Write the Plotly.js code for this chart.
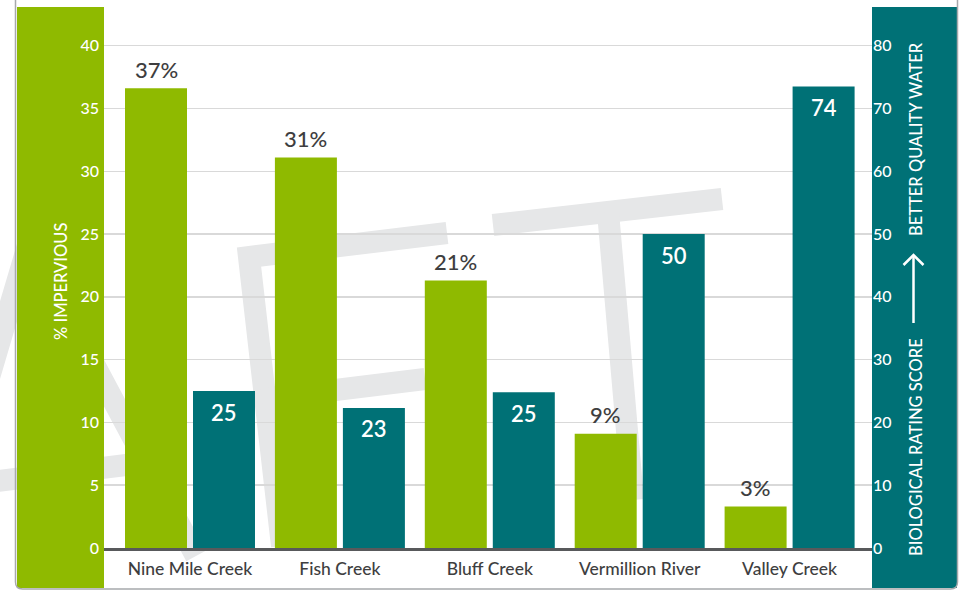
<!DOCTYPE html>
<html>
<head>
<meta charset="utf-8">
<script src="https://cdn.plot.ly/plotly-3.0.1.min.js"></script>
<style>
  html, body { margin: 0; padding: 0; background: #ffffff; }
  #chart { width: 963px; height: 590px; }
</style>
</head>
<body>
<div id="chart"></div>
<script>
// ---- data ----
const categories = ['Nine Mile Creek', 'Fish Creek', 'Bluff Creek', 'Vermillion River', 'Valley Creek'];
const impervious = [36.6, 31.1, 21.3, 9.1, 3.3];
const imperviousLabels = ['37%', '31%', '21%', '9%', '3%'];
const bioScore = [25.0, 22.3, 24.8, 50.0, 73.5];
const bioScoreLabels = ['25', '23', '25', '50', '74'];
const leftTicks = [0, 5, 10, 15, 20, 25, 30, 35, 40];
const rightTicks = [0, 10, 20, 30, 40, 50, 60, 70, 80];

// ---- style ----
const GREEN = '#8fba00';
const TEAL = '#007176';
const DARK = '#3e3e40';
const WM = '#e6e7e8';
const FONT = 'Lato, "Open Sans", sans-serif';

const W = 963, H = 590;
const M = { l: 104, r: 91, t: 8, b: 42 };
const PW = W - M.l - M.r, PH = H - M.t - M.b;
// pixel -> paper helpers for decorations
const px = x => (x - M.l) / PW;
const py = y => (H - M.b - y) / PH;
const pt = (x, y) => px(x).toFixed(5) + ',' + py(y).toFixed(5);
const path = pts => 'M' + pts.map(p => pt(p[0], p[1])).join(' L');

const traces = [
  {
    type: 'bar', x: categories, y: impervious, yaxis: 'y',
    marker: { color: GREEN }, width: 0.4136, offset: -0.4336,
    hoverinfo: 'none', showlegend: false
  },
  {
    type: 'bar', x: categories, y: bioScore, yaxis: 'y2',
    marker: { color: TEAL }, width: 0.4136, offset: 0.02,
    hoverinfo: 'none', showlegend: false
  }
];

const annotations = [];
categories.forEach((c, i) => {
  annotations.push({
    x: c, y: impervious[i], xref: 'x', yref: 'y', text: imperviousLabels[i],
    showarrow: false, xshift: -34, yshift: 19, xanchor: 'center', yanchor: 'middle',
    font: { family: FONT, size: 22, color: DARK, weight: 500 }
  });
  annotations.push({
    x: c, y: bioScore[i], xref: 'x', yref: 'y2', text: bioScoreLabels[i],
    showarrow: false, xshift: 34, yshift: -21, xanchor: 'center', yanchor: 'middle',
    font: { family: FONT, size: 22, color: '#ffffff', weight: 600 }
  });
});
// axis titles
const titleFont = { family: FONT, size: 16.5, color: '#ffffff', weight: 500 };
annotations.push({
  xref: 'paper', yref: 'paper', x: px(61), y: py(282), text: '% IMPERVIOUS',
  textangle: -90, showarrow: false, xanchor: 'center', yanchor: 'middle', font: titleFont
});
annotations.push({
  xref: 'paper', yref: 'paper', x: px(916), y: py(447), text: 'BIOLOGICAL RATING SCORE',
  textangle: -90, showarrow: false, xanchor: 'center', yanchor: 'middle', font: titleFont
});
annotations.push({
  xref: 'paper', yref: 'paper', x: px(916), y: py(139), text: 'BETTER QUALITY WATER',
  textangle: -90, showarrow: false, xanchor: 'center', yanchor: 'middle', font: titleFont
});

const wmLine = { color: WM, width: 22 };
const shapes = [
  // watermark "DRAFT" fragments (decorative)
  { type: 'path', xref: 'paper', yref: 'paper', layer: 'below', line: wmLine,
    path: path([[-65, 560], [29, 242], [196, 556]]) },
  { type: 'path', xref: 'paper', yref: 'paper', layer: 'below', line: wmLine,
    path: path([[-10, 482], [142, 463]]) },
  { type: 'path', xref: 'paper', yref: 'paper', layer: 'below', line: wmLine,
    path: path([[447, 233], [249, 257], [282, 546]]) },
  { type: 'path', xref: 'paper', yref: 'paper', layer: 'below', line: wmLine,
    path: path([[262, 399], [425, 379]]) },
  { type: 'path', xref: 'paper', yref: 'paper', layer: 'below', line: wmLine,
    path: path([[493, 225], [722, 199]]) },
  { type: 'path', xref: 'paper', yref: 'paper', layer: 'below', line: wmLine,
    path: path([[608, 212], [633, 500]]) },
  // side bands
  { type: 'rect', xref: 'paper', yref: 'paper', layer: 'below',
    x0: px(17), x1: px(104), y0: py(7), y1: py(588), fillcolor: GREEN, line: { width: 0 } },
  { type: 'rect', xref: 'paper', yref: 'paper', layer: 'below',
    x0: px(872), x1: px(957), y0: py(7), y1: py(588), fillcolor: TEAL, line: { width: 0 } },
  // card border
  { type: 'path', xref: 'paper', yref: 'paper', layer: 'above',
    line: { color: '#a7a9ac', width: 1.5 },
    path: 'M' + pt(15.5, -2) + ' L' + pt(15.5, 582) + ' Q' + pt(15.5, 589) + ' ' + pt(22.5, 589) +
          ' L' + pt(950.5, 589) + ' Q' + pt(957.5, 589) + ' ' + pt(957.5, 582) + ' L' + pt(957.5, -2) },
  // arrow on right title
  { type: 'path', xref: 'paper', yref: 'paper', layer: 'above',
    line: { color: '#ffffff', width: 2.5 }, path: path([[913.5, 323], [913.5, 255]]) },
  { type: 'path', xref: 'paper', yref: 'paper', layer: 'above',
    line: { color: '#ffffff', width: 2.5 }, path: path([[903.5, 265], [913.5, 255], [923.5, 265]]) }
];

const layout = {
  width: W, height: H,
  margin: M,
  paper_bgcolor: '#ffffff',
  plot_bgcolor: 'rgba(0,0,0,0)',
  barmode: 'overlay',
  showlegend: false,
  font: { family: FONT },
  xaxis: {
    type: 'category', categoryorder: 'array', categoryarray: categories,
    range: [-0.5737, 4.5497],
    showgrid: false, zeroline: false,
    showline: true, linecolor: '#58595b', linewidth: 2.5,
    ticks: '', ticklabelstandoff: 3,
    tickfont: { family: FONT, size: 17.5, color: DARK, weight: 500 },
    fixedrange: true
  },
  yaxis: {
    range: [0, 43], tickvals: leftTicks, ticktext: leftTicks.map(String),
    showgrid: true, gridcolor: '#d9d9d9', gridwidth: 1.5,
    zeroline: false, showline: false, ticks: '', ticklabelstandoff: 4,
    tickfont: { family: FONT, size: 16, color: '#ffffff', weight: 500 },
    fixedrange: true
  },
  yaxis2: {
    range: [0, 86], tickvals: rightTicks, ticktext: rightTicks.map(String),
    overlaying: 'y', side: 'right',
    showgrid: false, zeroline: false, showline: false, ticks: '',
    tickfont: { family: FONT, size: 16, color: '#ffffff', weight: 500 },
    fixedrange: true
  },
  annotations: annotations,
  shapes: shapes
};

Plotly.newPlot('chart', traces, layout, { displayModeBar: false, staticPlot: true });
</script>
</body>
</html>
